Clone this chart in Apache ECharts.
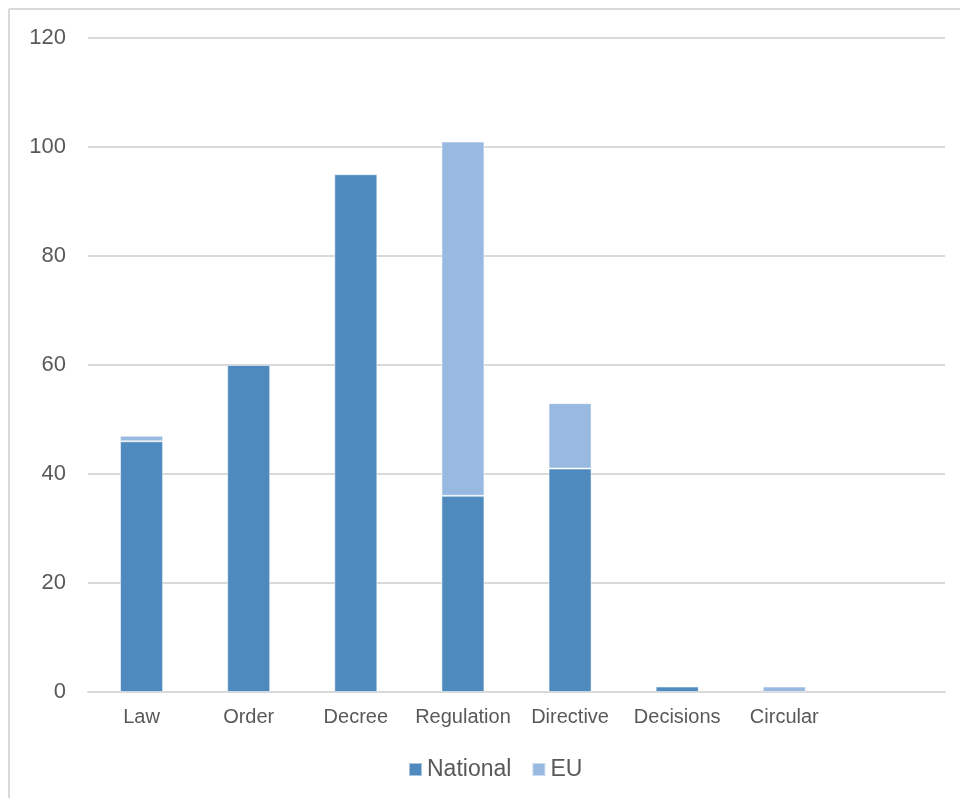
<!DOCTYPE html>
<html>
<head>
<meta charset="utf-8">
<script src="https://cdn.jsdelivr.net/npm/echarts@6/dist/echarts.min.js"></script>
<style>
    html, body { margin:0; padding:0; background:#fff; }
    #chart { width:960px; height:798px; }
</style>
</head>
<body>
<div id="chart"></div>
<script>
    // categories (last slot is empty in the original)
    var categories = ['Law', 'Order', 'Decree', 'Regulation', 'Directive', 'Decisions', 'Circular', '']
    var nationalData = [46, 60, 95, 36, 41, 1, null, null]
    var euData = [1, null, null, 65, 12, null, 1, null]
    var yTicks = [0, 20, 40, 60, 80, 100, 120]

    var myChart = echarts.init(document.getElementById('chart'))
    var fontName = '"Liberation Sans", Arial, sans-serif'

    var option = {
        animation: false,
        backgroundColor: '#fff',
        graphic: [
            { type: 'line', shape: { x1: 9, y1: 9, x2: 960, y2: 9 }, style: { stroke: '#d9d9d9', lineWidth: 2 } },
            { type: 'line', shape: { x1: 9, y1: 9, x2: 9, y2: 798 }, style: { stroke: '#d9d9d9', lineWidth: 2 } }
        ],
        legend: {
            data: ['National', 'EU'],
            bottom: 17,
            left: 408,
            padding: 0,
            itemWidth: 13,
            itemHeight: 13,
            itemGap: 20,
            icon: 'rect',
            textStyle: {
                color: '#595959',
                fontSize: 23,
                fontFamily: fontName,
                padding: [0, 0, 0, 0]
            }
        },
        grid: {
            left: 88,
            right: 15,
            top: 38,
            bottom: 106
        },
        xAxis: {
            type: 'category',
            data: categories,
            axisLine: { show: true, lineStyle: { color: '#d9d9d9', width: 2 } },
            axisTick: { show: false },
            axisLabel: {
                color: '#595959',
                fontSize: 20,
                fontFamily: fontName,
                margin: 15,
                interval: 0
            }
        },
        yAxis: {
            type: 'value',
            min: yTicks[0],
            max: yTicks[yTicks.length - 1],
            interval: 20,
            axisLine: { show: false },
            axisTick: { show: false },
            axisLabel: {
                color: '#595959',
                fontSize: 22,
                fontFamily: fontName,
                margin: 22
            },
            splitLine: { show: true, lineStyle: { color: '#d9d9d9', width: 2 } }
        },
        series: [
            {
                name: 'National',
                type: 'bar',
                stack: 'total',
                data: nationalData,
                barWidth: 43,
                itemStyle: { color: '#4e8abe', borderColor: 'rgba(255,255,255,0.5)', borderWidth: 1 }
            },
            {
                name: 'EU',
                type: 'bar',
                stack: 'total',
                data: euData,
                barWidth: 43,
                itemStyle: { color: '#98b9e0', borderColor: 'rgba(255,255,255,0.5)', borderWidth: 1 }
            }
        ]
    }
    myChart.setOption(option)
</script>
</body>
</html>
